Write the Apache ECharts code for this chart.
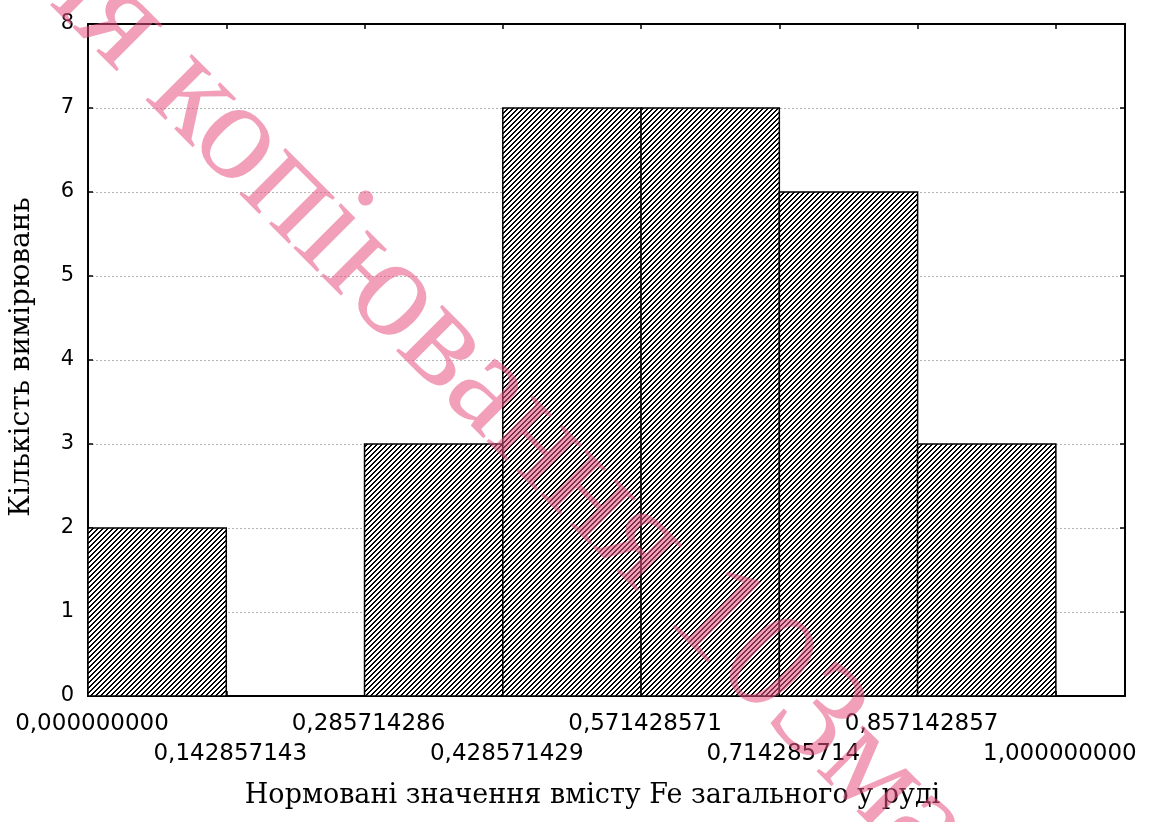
<!DOCTYPE html>
<html>
<head>
<meta charset="utf-8">
<script src="https://cdn.jsdelivr.net/npm/echarts@6/dist/echarts.min.js"></script>
<style>
  html, body { margin: 0; padding: 0; background: #fff; }
  #chart { width: 1152px; height: 822px; }
</style>
</head>
<body>
<div id="chart"></div>
<script>
// Bin edges of the histogram (normalised Fe content) and their printed labels
const binEdges = [0, 0.142857143, 0.285714286, 0.428571429, 0.571428571, 0.714285714, 0.857142857, 1.0];
const edgeLabels = ['0,000000000', '0,142857143', '0,285714286', '0,428571429',
                    '0,571428571', '0,714285714', '0,857142857', '1,000000000'];
// Number of measurements in each bin
const counts = [2, 0, 3, 7, 7, 6, 3];
const yTicks = [0, 1, 2, 3, 4, 5, 6, 7, 8];

const xTitle = 'Нормовані значення вмісту Fe загального у руді';
const yTitle = 'Кількість вимірювань';
const stampHead = 'для ';
const stampTail = 'копіювання 103ма';

const binWidth = binEdges[1] - binEdges[0];
const xMax = 1 + binWidth / 2;

// Diagonal "/" hatch tile for the bars
function hatchTile() {
  const n = 5;
  const c = document.createElement('canvas');
  c.width = n; c.height = n;
  const ctx = c.getContext('2d');
  const img = ctx.createImageData(n, n);
  for (let y = 0; y < n; y++) {
    for (let x = 0; x < n; x++) {
      const k = (x + y) % n;
      const v = (k === 0 || k === 1) ? 0 : 255;
      const i = (y * n + x) * 4;
      img.data[i] = v; img.data[i + 1] = v; img.data[i + 2] = v; img.data[i + 3] = 255;
    }
  }
  ctx.putImageData(img, 0, 0);
  return c;
}
const hatch = { image: hatchTile(), repeat: 'repeat' };

const bins = counts.map((c, i) => [binEdges[i], binEdges[i + 1], c]);

// Edge labels alternate between two rows: even edges on the first row, odd on the second
function edgeLabel(value, parity) {
  const i = Math.round(value / binWidth);
  if (i < 0 || i >= edgeLabels.length || Math.abs(value - binEdges[i]) > 1e-6) return '';
  return (i % 2 === parity) ? edgeLabels[i] : '';
}

const chart = echarts.init(document.getElementById('chart'), null, { renderer: 'canvas' });

const tickFont = { fontFamily: '"DejaVu Sans", sans-serif', fontSize: 23, color: '#000' };
const titleFont = { fontFamily: '"DejaVu Serif", serif', fontSize: 27, color: '#000' };
const frameLine = { show: true, onZero: false, lineStyle: { color: '#000', width: 2 } };
const innerTick = { show: true, inside: true, length: 5, lineStyle: { color: '#000', width: 1.5 } };

chart.setOption({
  animation: false,
  backgroundColor: '#fff',
  grid: { left: 88, right: 27, top: 24, bottom: 126, containLabel: false },
  xAxis: [
    {
      type: 'value', position: 'bottom',
      min: 0, max: xMax, interval: binWidth,
      name: xTitle, nameLocation: 'middle', nameGap: 86,
      nameTextStyle: Object.assign({ padding: [0, 28, 0, 0] }, titleFont),
      axisLine: frameLine,
      axisTick: innerTick,
      axisLabel: Object.assign({
        interval: 0, hideOverlap: false, margin: 17, padding: [0, 0, 0, 8],
        formatter: v => edgeLabel(v, 0)
      }, tickFont),
      splitLine: { show: false }
    },
    {
      type: 'value', position: 'top',
      min: 0, max: xMax, interval: binWidth,
      axisLine: frameLine,
      axisTick: innerTick,
      axisLabel: { show: false },
      splitLine: { show: false }
    },
    {
      type: 'value', position: 'bottom',
      min: 0, max: xMax, interval: binWidth,
      axisLine: { show: false },
      axisTick: { show: false },
      axisLabel: Object.assign({
        interval: 0, hideOverlap: false, margin: 47, padding: [0, 0, 0, 8],
        formatter: v => edgeLabel(v, 1)
      }, tickFont),
      splitLine: { show: false }
    }
  ],
  yAxis: [
    {
      type: 'value', position: 'left',
      min: yTicks[0], max: yTicks[yTicks.length - 1], interval: 1,
      name: yTitle, nameLocation: 'middle', nameGap: 52,
      nameTextStyle: Object.assign({ padding: [0, 0, 0, 6] }, titleFont, { fontSize: 28 }),
      axisLine: frameLine,
      axisTick: innerTick,
      axisLabel: Object.assign({ margin: 14 }, tickFont, { fontSize: 21 }),
      splitLine: { show: true, lineStyle: { color: '#b4b4b4', width: 1, type: [2, 2] } }
    },
    {
      type: 'value', position: 'right',
      min: yTicks[0], max: yTicks[yTicks.length - 1], interval: 1,
      axisLine: frameLine,
      axisTick: innerTick,
      axisLabel: { show: false },
      splitLine: { show: false }
    }
  ],
  series: [{
    type: 'custom',
    xAxisIndex: 0,
    yAxisIndex: 0,
    data: bins,
    encode: { x: [0, 1], y: 2 },
    z: 3,
    renderItem: function (params, api) {
      const p0 = api.coord([api.value(0), 0]);
      const p1 = api.coord([api.value(1), api.value(2)]);
      return {
        type: 'rect',
        shape: { x: p0[0], y: p1[1], width: p1[0] - p0[0], height: p0[1] - p1[1] },
        style: { fill: hatch, stroke: '#000', lineWidth: 1.5 }
      };
    }
  }],
  graphic: [
    {
      type: 'text', x: 170, y: 72, rotation: -Math.PI / 4, z: 100, silent: true,
      style: {
        text: stampTail, fill: 'rgba(232,80,130,0.55)',
        font: '142px "Liberation Serif", serif',
        align: 'left', verticalAlign: 'middle'
      }
    },
    {
      type: 'text', x: 170, y: 72, rotation: -Math.PI / 4, z: 100, silent: true,
      style: {
        text: stampHead, fill: 'rgba(232,80,130,0.55)',
        font: '142px "Liberation Serif", serif',
        align: 'right', verticalAlign: 'middle'
      }
    }
  ]
});
</script>
</body>
</html>
